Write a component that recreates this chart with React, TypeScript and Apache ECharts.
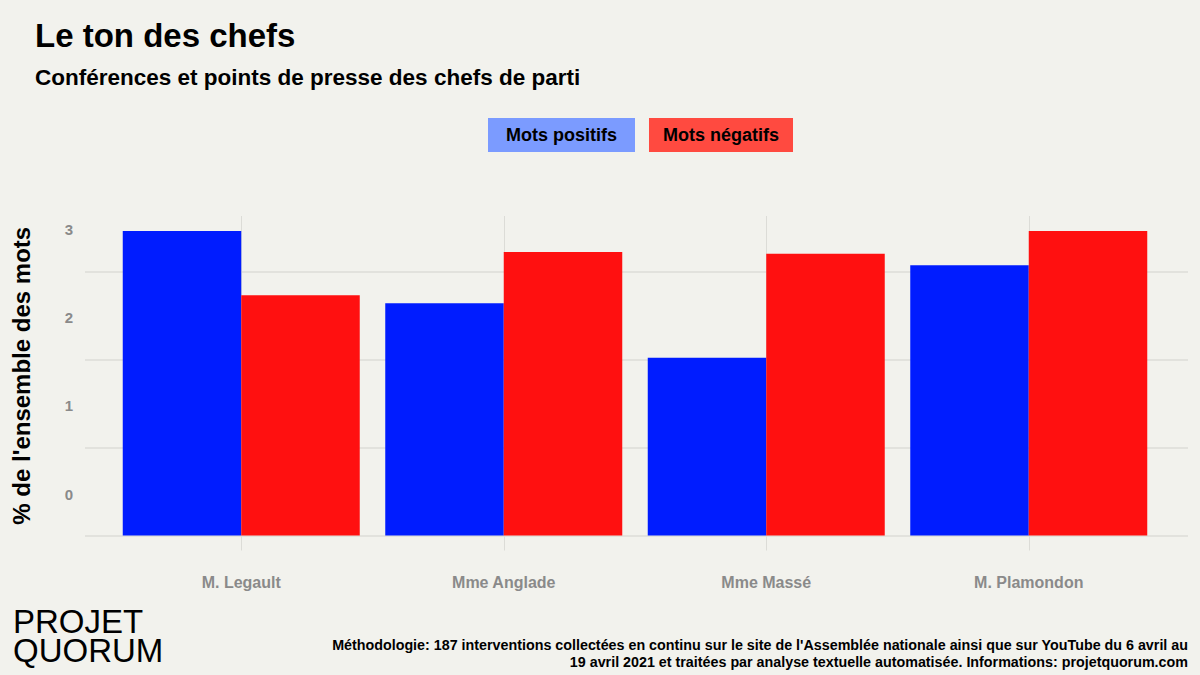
import React, { useEffect, useRef } from "react";
import * as echarts from "echarts";

// Party leaders and share (%) of positive / negative words in their press conferences
const categories = ["M. Legault", "Mme Anglade", "Mme Massé", "M. Plamondon"];
const positiveWords = [3.46, 2.64, 2.02, 3.07];
const negativeWords = [2.73, 3.22, 3.2, 3.46];
const seriesNames = ["Mots positifs", "Mots négatifs"];

const titleText = "Le ton des chefs";
const subtitleText = "Conférences et points de presse des chefs de parti";
const yAxisName = "% de l'ensemble des mots";
const sourceText =
  "Méthodologie: 187 interventions collectées en continu sur le site de l'Assemblée nationale ainsi que sur YouTube du 6 avril au\n19 avril 2021 et traitées par analyse textuelle automatisée. Informations: projetquorum.com";
const logoLines = ["PROJET", "QUORUM"];

const FONT = "'Liberation Sans', Arial, Helvetica, sans-serif";
const BG = "#f2f2ed";
const GRID_COLOR = "#dcdcd7";
const LABEL_GRAY = "#8a8a8a";
const BLUE = "#001cff";
const RED = "#ff1010";

export default function App() {
  const ref = useRef<HTMLDivElement>(null);

  useEffect(() => {
    document.body.style.margin = "0";
    if (!ref.current) return;
    const chart = echarts.init(ref.current, null, { renderer: "svg" });

    const yMax = 3.63;
    const plotTop = 216;
    const plotHeight = 319.5;

    const option: any = {
      animation: false,
      backgroundColor: BG,
      textStyle: { fontFamily: FONT },
      legend: {
        left: 478,
        top: 113,
        icon: "rect",
        itemWidth: 0,
        itemHeight: 0,
        itemGap: 9,
        selectedMode: false,
        textStyle: {
          fontFamily: FONT,
          fontSize: 18,
          fontWeight: "bold",
          color: "#000",
        },
        data: [
          {
            name: seriesNames[0],
            textStyle: { backgroundColor: "#7b9bff", padding: [8, 18, 8, 18] },
          },
          {
            name: seriesNames[1],
            textStyle: { backgroundColor: "#ff4a40", padding: [8, 14, 8, 14] },
          },
        ],
      },
      grid: [
        // bars
        { left: 110, width: 1050, top: plotTop, height: plotHeight, containLabel: false },
        // horizontal grid lines and value labels
        { left: 85, width: 1103, top: plotTop, height: plotHeight, containLabel: false },
      ],
      xAxis: [
        {
          type: "category",
          gridIndex: 0,
          data: categories,
          axisLine: { show: false },
          axisTick: {
            show: true,
            alignWithLabel: true,
            length: 15,
            lineStyle: { color: GRID_COLOR, width: 1 },
          },
          axisLabel: {
            margin: 39,
            fontSize: 16,
            fontWeight: "bold",
            color: LABEL_GRAY,
            fontFamily: FONT,
          },
          splitLine: { show: false },
        },
        {
          // vertical grid lines at each leader
          type: "category",
          gridIndex: 0,
          data: categories,
          position: "bottom",
          axisLine: { show: false },
          axisTick: {
            show: true,
            inside: true,
            alignWithLabel: true,
            length: plotHeight,
            lineStyle: { color: GRID_COLOR, width: 1 },
          },
          axisLabel: { show: false },
          splitLine: { show: false },
        },
        {
          type: "value",
          gridIndex: 1,
          min: 0,
          max: 1,
          show: false,
        },
      ],
      yAxis: [
        {
          type: "value",
          gridIndex: 0,
          min: 0,
          max: yMax,
          show: false,
          splitLine: { show: false },
        },
        {
          type: "value",
          gridIndex: 1,
          min: 0,
          max: yMax,
          interval: 1,
          axisLine: { show: false },
          axisTick: { show: false },
          axisLabel: {
            margin: 12,
            fontSize: 15,
            fontWeight: "bold",
            color: LABEL_GRAY,
            fontFamily: FONT,
            verticalAlign: "bottom",
            padding: [0, 0, 34, 0],
            formatter: (v: number) => (Number.isInteger(v) ? String(v) : ""),
          },
          splitLine: {
            show: true,
            lineStyle: {
              color: [GRID_COLOR, GRID_COLOR, GRID_COLOR, GRID_COLOR, "rgba(0,0,0,0)"],
              width: 1.5,
            },
          },
          name: yAxisName,
          nameLocation: "middle",
          nameGap: 52,
          nameTextStyle: {
            fontFamily: FONT,
            fontSize: 24,
            fontWeight: "bold",
            color: "#000",
          },
        },
      ],
      series: [
        {
          name: seriesNames[0],
          type: "bar",
          xAxisIndex: 0,
          yAxisIndex: 0,
          data: positiveWords,
          barWidth: 118.5,
          barGap: "0%",
          itemStyle: { color: BLUE },
          z: 3,
        },
        {
          name: seriesNames[1],
          type: "bar",
          xAxisIndex: 0,
          yAxisIndex: 0,
          data: negativeWords,
          barWidth: 118.5,
          barGap: "0%",
          itemStyle: { color: RED },
          z: 3,
        },
      ],
      graphic: [
        {
          type: "text",
          left: 35,
          top: 19,
          style: {
            text: titleText,
            font: `bold 33px ${FONT}`,
            fill: "#000",
          },
        },
        {
          type: "text",
          left: 35,
          top: 65.5,
          style: {
            text: subtitleText,
            font: `bold 22.5px ${FONT}`,
            fill: "#000",
          },
        },
        {
          type: "text",
          left: 13,
          top: 605,
          style: {
            text: logoLines[0],
            font: `normal 33px ${FONT}`,
            lineHeight: 29,
            fill: "#000",
          },
        },
        {
          type: "text",
          left: 13,
          top: 634,
          style: {
            text: logoLines[1],
            font: `normal 33px ${FONT}`,
            lineHeight: 29,
            fill: "#000",
          },
        },
        {
          type: "text",
          x: 1188,
          y: 636.5,
          style: {
            text: sourceText,
            font: `bold 14.3px ${FONT}`,
            lineHeight: 17,
            align: "right",
            verticalAlign: "top",
            fill: "#000",
          },
        },
      ],
    };

    chart.setOption(option);
    return () => chart.dispose();
  }, []);

  return <div ref={ref} style={{ width: 1200, height: 675 }} />;
}
